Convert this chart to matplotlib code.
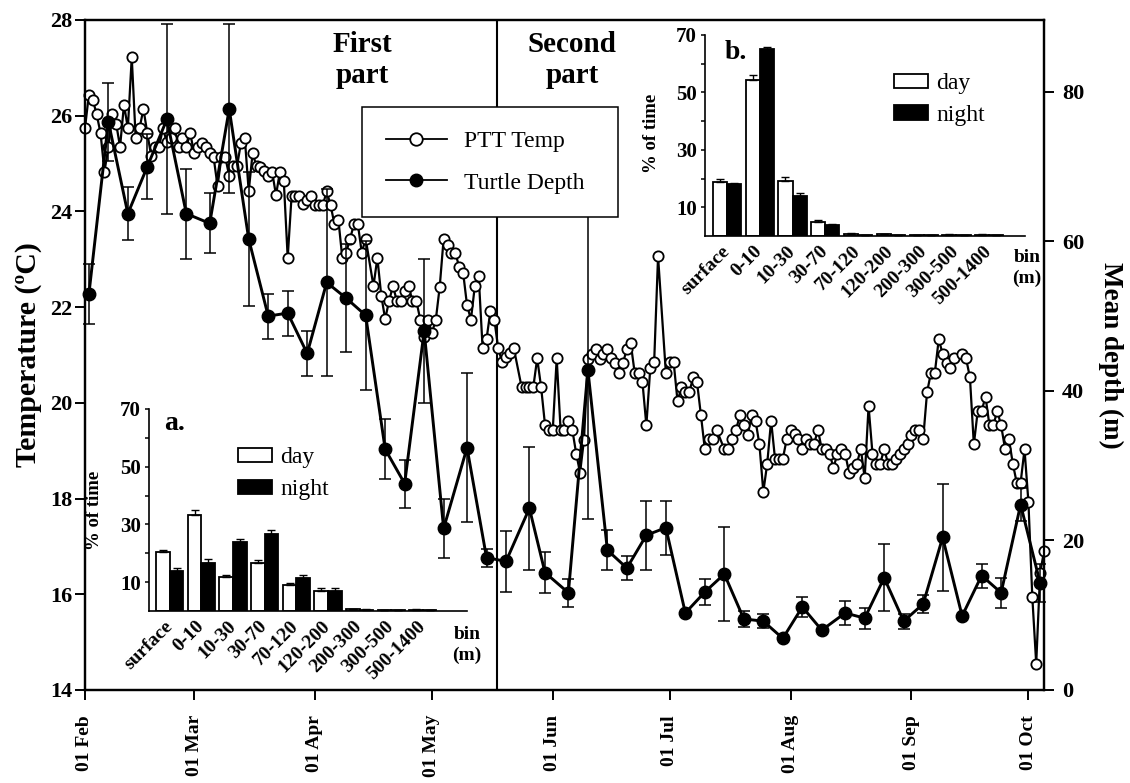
import numpy as np
import pandas as pd
import matplotlib
matplotlib.use("Agg")
import matplotlib.pyplot as plt
from matplotlib.lines import Line2D
from matplotlib.patches import Patch

plt.rcParams['font.family'] = ['Liberation Serif', 'DejaVu Serif']
plt.rcParams['font.weight'] = 'bold'
plt.rcParams['axes.labelweight'] = 'bold'

start = pd.Timestamp('2003-02-01')
nan = np.nan

# PTT temperature, one value per day from 01 Feb (nan = no reading that day)
ptt_temp = [
    25.74, 26.44, 26.33, 26.03, 25.63, 24.83, 25.35, 26.03, 25.83, 25.35,
    26.23, 25.74, 27.22, 25.53, 25.74, 26.14, 25.63, 25.15, 25.35, 25.35,
    25.74, 25.44, 25.54, 25.74, 25.35, 25.54, 25.35, 25.63, 25.22, 25.35,
    25.43, 25.35, 25.22, 25.13, 24.53, 25.13, 25.13, 24.74, 24.94, 24.94,
    25.43, 25.53, 24.42, 25.22, 24.94, 24.93, 24.84, 24.74, 24.83, 24.34,
    24.83, 24.63, 23.03, 24.33, 24.33, 24.33, 24.15, 24.24, 24.33, 24.13,
    24.13, 24.13, 24.42, 24.13, 23.73, 23.83, 23.03, 23.14, 23.43, 23.73,
    23.73, 23.14, 23.43, nan, 22.44, 23.03, 22.24, 21.75, 22.13, 22.44,
    22.13, 22.13, 22.34, 22.44, 22.13, 22.13, 21.74, 21.37, 21.74, 21.46,
    21.74, 22.43, 23.43, 23.30, 23.14, 23.14, 22.83, 22.72, 22.04, 21.74,
    22.44, 22.64, 21.14, 21.33, 21.92, 21.74, 21.14, 20.85, 20.95, 21.04,
    21.14, nan, 20.33, 20.33, 20.33, 20.33, 20.93, 20.33, 19.54, 19.44,
    19.44, 20.93, 19.44, 19.44, 19.63, 19.44, 18.94, 18.54, 19.23, 20.92,
    21.02, 21.13, 20.92, 21.02, 21.13, 20.93, 20.83, 20.63, 20.83, 21.13,
    21.24, 20.63, 20.63, 20.43, 19.53, 20.72, 20.85, 23.06, nan, 20.63,
    20.85, 20.85, 20.03, 20.33, 20.22, 20.22, 20.53, 20.43, 19.74, 19.03,
    19.24, 19.24, 19.44, nan, 19.03, 19.03, 19.24, 19.44, 19.74, 19.54,
    19.33, 19.74, 19.63, 19.13, 18.14, 18.73, 19.63, 18.83, 18.83, 18.83,
    19.24, 19.44, 19.34, 19.24, 19.03, 19.24, 19.13, 19.13, 19.44, 19.03,
    19.03, 18.94, 18.64, 18.94, 19.04, 18.94, 18.54, 18.64, 18.73, 19.04,
    18.43, 19.93, 18.94, 18.73, 18.73, 19.04, 18.73, 18.73, 18.83, 18.94,
    19.04, 19.13, 19.33, 19.44, 19.44, 19.24, 20.22, 20.63, 20.63, 21.33,
    21.02, 20.83, 20.73, 20.93, nan, 21.03, 20.93, 20.53, 19.13, 19.83,
    19.83, 20.13, 19.53, 19.53, 19.83, 19.53, 19.04, 19.24, 18.73, 18.33,
    18.33, 19.03, 17.93, 15.94, 14.55, 16.44, 16.90,
]

# turtle mean depth (m): day offset from 01 Feb, mean, lower / upper error
depth_day = [1, 6, 11, 16, 21, 26, 32, 37, 42, 47, 52, 57, 62, 67, 72, 77,
             82, 87, 92, 98, 103, 108, 114, 118, 124, 129, 134, 139, 144,
             149, 154, 159, 164, 169, 174, 179, 184, 189, 195, 200, 205,
             210, 215, 220, 225, 230, 235, 240, 245]
depth_mean = [52.9, 76.0, 63.7, 70.0, 76.3, 63.7, 62.4, 77.7, 60.3, 50.0,
              50.4, 45.0, 54.5, 52.4, 50.1, 32.2, 27.6, 48.0, 21.6, 32.4,
              17.7, 17.2, 24.3, 15.7, 13.0, 42.8, 18.7, 16.3, 20.7, 21.7,
              10.3, 13.1, 15.5, 9.5, 9.2, 6.9, 11.1, 8.0, 10.3, 9.6, 15.0,
              9.2, 11.5, 20.4, 9.9, 15.3, 13.0, 24.8, 14.3]
depth_err_lo = [4.0, 5.2, 3.5, 4.4, 12.7, 6.0, 4.0, 11.3, 9.0, 3.0, 3.0, 3.0,
                12.5, 7.2, 10.0, 4.0, 3.2, 9.6, 4.0, 10.0, 1.2, 4.1, 8.2, 2.7,
                1.9, 20.0, 2.7, 1.6, 4.6, 3.6, 0.0, 1.8, 6.3, 1.1, 0.9, 0.0,
                1.3, 0.0, 1.6, 1.4, 4.5, 1.0, 1.2, 7.2, 0.0, 1.6, 2.0, 2.2, 2.5]
depth_err_up = [4.0, 5.2, 3.5, 4.4, 12.7, 6.0, 4.0, 11.3, 9.0, 3.0, 3.0, 3.0,
                12.5, 7.2, 10.0, 4.0, 3.2, 9.6, 4.0, 10.0, 1.2, 4.1, 8.2, 2.7,
                1.9, 27.2, 2.7, 1.6, 4.6, 3.6, 0.0, 1.8, 6.3, 1.1, 0.9, 0.0,
                1.3, 0.0, 1.6, 1.4, 4.5, 1.0, 1.2, 7.2, 0.0, 1.6, 2.0, 2.2, 2.5]

divider_day = 105.7   # end of first part

# inset histograms, % of time per depth bin
bins = ['surface', '0-10', '10-30', '30-70', '70-120', '120-200',
        '200-300', '300-500', '500-1400']
a_day = [20.5, 33.4, 11.7, 16.6, 8.9, 7.1, 0.6, 0.4, 0.5]
a_day_err = [0.7, 1.6, 0.9, 1.0, 0.9, 0.8, 0.1, 0.1, 0.1]
a_night = [14.0, 16.6, 23.9, 26.6, 11.4, 7.1, 0.5, 0.3, 0.4]
a_night_err = [0.9, 1.5, 0.9, 1.4, 1.0, 0.8, 0.1, 0.1, 0.1]
b_day = [18.7, 54.4, 19.0, 5.0, 0.8, 0.6, 0.4, 0.5, 0.5]
b_day_err = [1.0, 1.5, 1.5, 0.7, 0.1, 0.1, 0.1, 0.1, 0.1]
b_night = [18.1, 65.1, 14.0, 3.7, 0.4, 0.3, 0.3, 0.3, 0.3]
b_night_err = [0.4, 0.8, 0.9, 0.35, 0.1, 0.1, 0.1, 0.1, 0.1]


fig = plt.figure(figsize=(11.3, 7.83), dpi=100)
ax = fig.add_axes([0.0752, 0.1188, 0.8487, 0.8557])
ax2 = ax.twinx()

temp = pd.Series(ptt_temp).dropna()
ax.plot(temp.index, temp.values, '-o', color='black', mfc='white',
        mec='black', ms=7.4, mew=1.3, lw=1.6, clip_on=False, zorder=3)
ax.axvline(divider_day, color='black', lw=1.5, zorder=2)

ax2.errorbar(depth_day, depth_mean, yerr=[depth_err_lo, depth_err_up],
             fmt='-o', color='black', ms=9, lw=2.1, elinewidth=1.1,
             capsize=4, capthick=1.1, clip_on=False)

months = pd.date_range('2003-02-01', '2003-10-01', freq='MS')
ax.set_xticks((months - start).days)
ax.set_xticklabels(months.strftime('%d %b'), rotation=90)
ax.set_xlim(0, 246)
ax.set_ylim(14, 28)
ax.set_yticks(range(14, 29, 2))
ax2.set_ylim(0, 89.6)
ax2.set_yticks(range(0, 81, 20))

for a in (ax, ax2):
    for s in a.spines.values():
        s.set_linewidth(1.6)
ax.tick_params(axis='x', direction='out', length=7, width=1.4, labelsize=14, pad=11)
ax.tick_params(axis='y', direction='out', length=7, width=1.4, labelsize=16, pad=2)
ax2.tick_params(axis='y', direction='out', length=7, width=1.4, labelsize=16, pad=6)

ax.set_ylabel('Temperature (ºC)', fontsize=21.5, labelpad=6)
ax2.set_ylabel('Mean depth (m)', fontsize=19.5, rotation=270, labelpad=28)

fig.text(362 / 1130, 1 - 60 / 783, 'First\npart', ha='center', va='center',
         fontsize=21, linespacing=1.2)
fig.text(572 / 1130, 1 - 60 / 783, 'Second\npart', ha='center', va='center',
         fontsize=21, linespacing=1.2)

handles = [
    Line2D([], [], color='black', lw=1.3, marker='o', mfc='white', mec='black',
           ms=9, mew=1.3, label='PTT Temp'),
    Line2D([], [], color='black', lw=1.3, marker='o', mfc='black', mec='black',
           ms=9, label='Turtle Depth'),
]
leg = ax2.legend(handles=handles, loc='upper left', mode='expand',
                 bbox_to_anchor=(362 / 1130, 1 - 211 / 783, 256 / 1130, 104 / 783),
                 bbox_transform=fig.transFigure, borderaxespad=0,
                 prop={'size': 17, 'weight': 'normal'}, handlelength=2.6,
                 handletextpad=0.7, labelspacing=0.85, borderpad=1.0,
                 fancybox=False, framealpha=1, edgecolor='black')
leg.get_frame().set_linewidth(1.1)
leg.set_zorder(10)


def draw_inset(rect, xlim, day, day_err, night, night_err, letter, letter_xy,
               leg_xy, ylabel_xy, bin_xy):
    ins = fig.add_axes(rect, facecolor='none')
    x = np.arange(len(bins))
    w = 0.43
    ins.bar(x - w / 2, day, w, color='white', edgecolor='black', lw=1.3)
    ins.bar(x + w / 2, night, w, color='black', edgecolor='black', lw=1.3)
    ins.errorbar(x - w / 2, day, yerr=[np.zeros(len(day)), day_err],
                 fmt='none', ecolor='black', elinewidth=1.0, capsize=3)
    ins.errorbar(x + w / 2, night, yerr=[np.zeros(len(night)), night_err],
                 fmt='none', ecolor='black', elinewidth=1.0, capsize=3)
    ins.set_xlim(*xlim)
    ins.set_ylim(0, 70)
    ins.set_yticks([10, 30, 50, 70])
    ins.set_yticks([20, 40, 60], minor=True)
    ins.set_xticks(x)
    ins.set_xticklabels(bins, rotation=45, ha='right', va='center',
                        rotation_mode='anchor')
    ins.tick_params(axis='x', length=0, labelsize=14, pad=9)
    ins.tick_params(axis='y', which='both', direction='out', length=3,
                    width=1.1, labelsize=15, pad=3)
    for s in ('top', 'right'):
        ins.spines[s].set_visible(False)
    for s in ('left', 'bottom'):
        ins.spines[s].set_linewidth(1.2)
    ins.set_ylabel('% of time', fontsize=13.5)
    ins.yaxis.set_label_coords(*ylabel_xy)
    ins.text(*letter_xy, letter, transform=ins.transAxes, fontsize=20,
             ha='left', va='center')
    ins.text(*bin_xy, 'bin\n(m)', transform=ins.transAxes, fontsize=14,
             ha='center', va='center', linespacing=1.3)
    patches = [Patch(facecolor='white', edgecolor='black', lw=1.3, label='day'),
               Patch(facecolor='black', edgecolor='black', lw=1.3, label='night')]
    ins.legend(handles=patches, loc='upper left', bbox_to_anchor=leg_xy,
               frameon=False, borderaxespad=0, borderpad=0,
               prop={'size': 17, 'weight': 'normal'}, handlelength=1.45,
               handleheight=0.55, handletextpad=0.35, labelspacing=0.45)
    return ins


draw_inset([149 / 1130, 1 - 611 / 783, 318 / 1130, 202 / 783], (-0.66, 9.4),
           a_day, a_day_err, a_night, a_night_err, 'a.', (0.047, 0.926),
           (0.28, 0.81), (-0.145, 0.5), (1.0, -0.17))
draw_inset([705 / 1130, 1 - 236 / 783, 320 / 1130, 201 / 783], (-0.67, 9.09),
           b_day, b_day_err, b_night, b_night_err, 'b.', (0.06, 0.915),
           (0.59, 0.81), (-0.14, 0.51), (1.006, -0.16))

fig.savefig('out.png', dpi=100)
